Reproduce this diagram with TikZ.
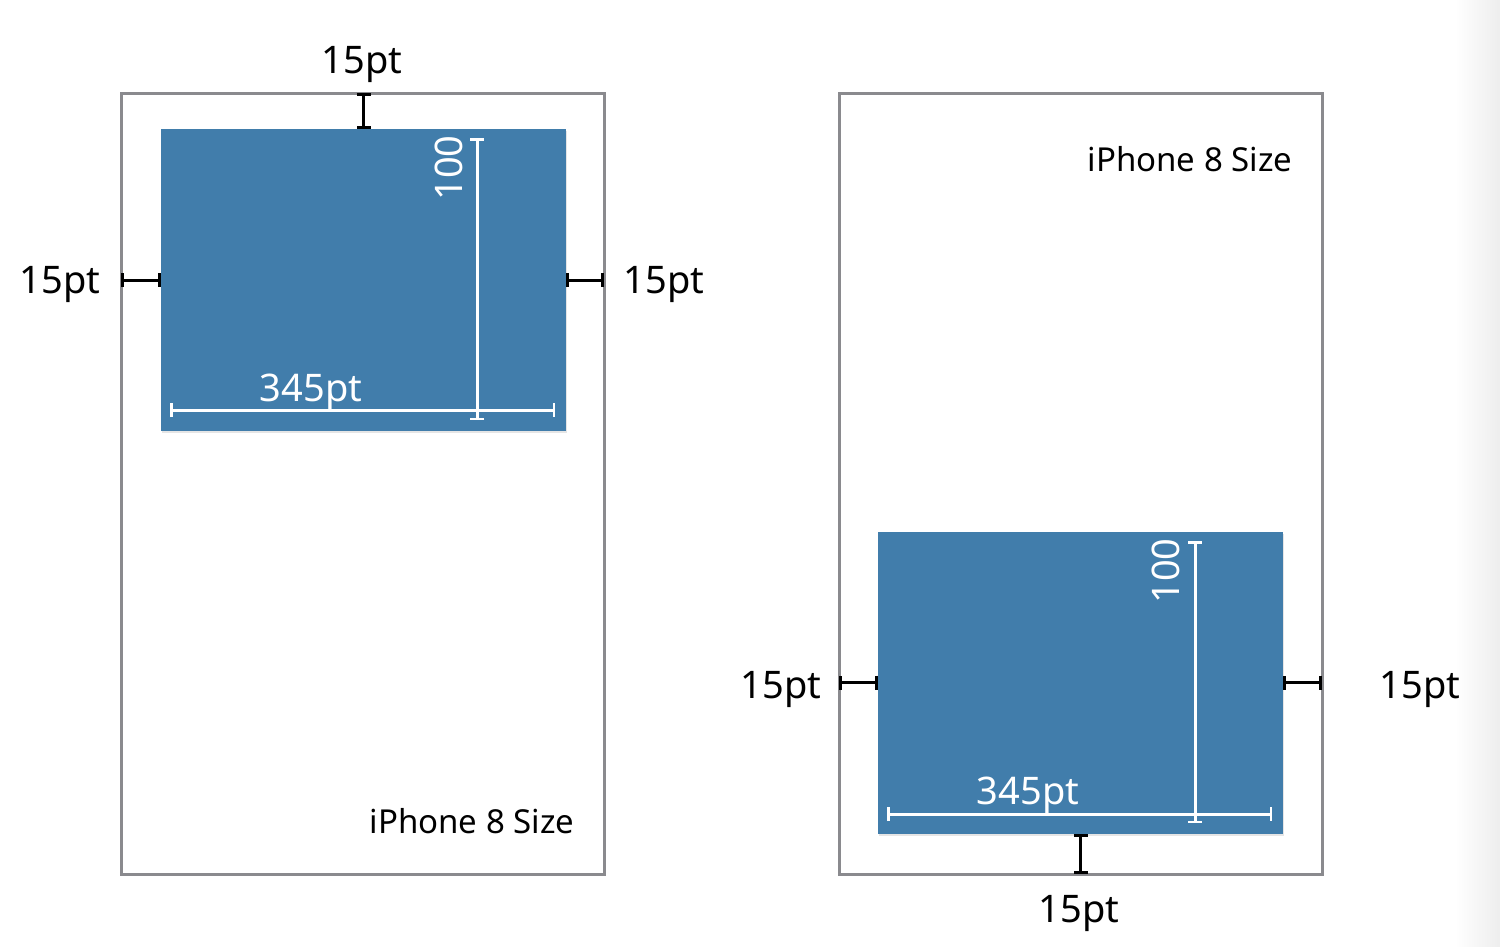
\documentclass[tikz,border=0pt]{standalone}
\usepackage{fontspec}
\setmainfont{Noto Sans}
\usetikzlibrary{arrows.meta,calc,shadows}
\definecolor{cardblue}{RGB}{65,125,171}
\definecolor{framegray}{RGB}{138,138,142}
\begin{document}
\begin{tikzpicture}[x=1pt,y=-1pt,
  frame/.style={draw=framegray,line width=3pt,fill=none,inner sep=0pt,minimum width=483pt,minimum height=781pt},
  card/.style={fill=cardblue,inner sep=0pt,minimum width=405pt,minimum height=302pt,
    drop shadow={shadow xshift=1pt,shadow yshift=-2pt,opacity=0.2,fill=gray}},
  dimk/.style={line width=3pt,black,{Bar[width=14pt,line width=3pt]}-{Bar[width=14pt,line width=3pt]}},
  dimw/.style={line width=3pt,white,{Bar[width=14pt,line width=2.5pt]}-{Bar[width=14pt,line width=2.5pt]}},
  big/.style={font=\fontsize{38}{44}\selectfont,inner sep=0pt},
  lbl/.style={font=\fontsize{33}{40}\selectfont,inner sep=0pt},
]
\useasboundingbox (0,0) rectangle (1500,946);
\fill[white] (0,0) rectangle (1500,946);
\shade[left color=white,right color=black!7] (1455,0) rectangle (1500,946);

% left panel
\node[frame] (f1) at (362.5,483.5) {};
\node[card] (b1) at (363.5,280) {};
\draw[dimk] (b1.north) -- ($(b1.north |- f1.north)+(0,1.5)$);
\draw[dimk] (b1.west) -- ($(b1.west -| f1.west)+(1.5,0)$);
\draw[dimk] (b1.east) -- ($(b1.east -| f1.east)+(-1.5,0)$);
\coordinate (v1t) at (477,138);
\coordinate (v1b) at (477,420);
\coordinate (h1l) at (170,410);
\coordinate (h1r) at (555,410);
\draw[dimw] (h1l) -- (h1r);
\draw[dimw] (v1t) -- (v1b);
\node[big] (t1top) at (362,64) {15pt};
\node[big] (t1left) at (60,284) {15pt};
\node[big] (t1right) at (664,284) {15pt};
\node[big,white] (w1) at (311,392) {345pt};
\node[big,white,rotate=90] (h1) at (449,168) {100};
\node[lbl] (s1) at (472,821) {iPhone 8 Size};

% right panel
\node[frame] (f2) at (1080.5,483.5) {};
\node[card] (b2) at (1080.5,682.5) {};
\draw[dimk] (b2.south) -- ($(b2.south |- f2.south)+(0,-1.5)$);
\draw[dimk] (b2.west) -- ($(b2.west -| f2.west)+(1.5,0)$);
\draw[dimk] (b2.east) -- ($(b2.east -| f2.east)+(-1.5,0)$);
\coordinate (v2t) at (1195,541);
\coordinate (v2b) at (1195,823);
\coordinate (h2l) at (887,814);
\coordinate (h2r) at (1272,814);
\draw[dimw] (h2l) -- (h2r);
\draw[dimw] (v2t) -- (v2b);
\node[big] (t2bot) at (1079,913) {15pt};
\node[big] (t2left) at (781,689) {15pt};
\node[big] (t2right) at (1420,689) {15pt};
\node[big,white] (w2) at (1028,795) {345pt};
\node[big,white,rotate=90] (h2) at (1166,571) {100};
\node[lbl] (s2) at (1190,159) {iPhone 8 Size};
\end{tikzpicture}
\end{document}
